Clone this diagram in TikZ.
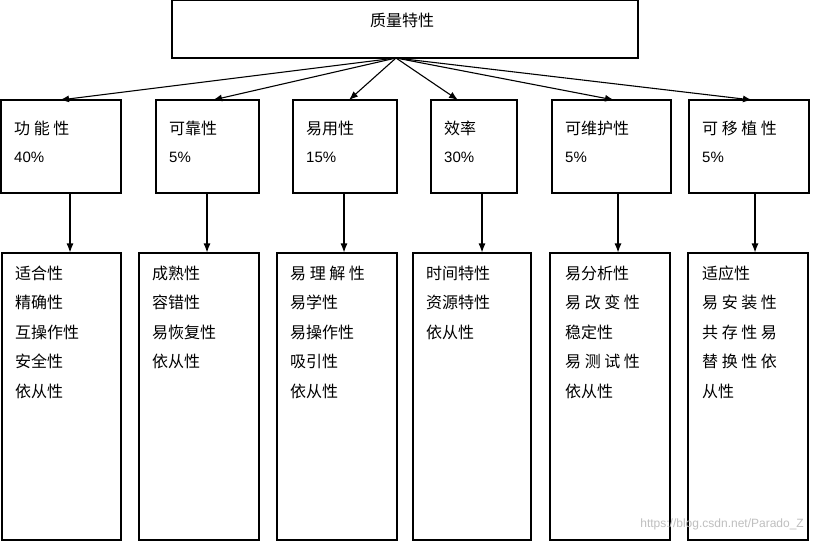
\documentclass[tikz,border=0pt]{standalone}
\usepackage{fontspec}
\usetikzlibrary{arrows.meta}
\newfontfamily\cjk{Noto Sans CJK SC}
\setmainfont{Liberation Sans}
\begin{document}
\begin{tikzpicture}[x=1pt,y=-1pt,
  bx/.style={draw,line width=1.1pt},
  lab/.style={anchor=west,inner sep=0pt,font=\cjk\fontsize{16}{16}\selectfont},
  pct/.style={anchor=west,inner sep=0pt,font=\fontsize{15}{15}\selectfont},
  arr/.style={-{Latex[length=9pt,width=7pt]},line width=1.1pt}]
\useasboundingbox (0,0) rectangle (814,544);
\fill[white] (0,0) rectangle (814,544);
\node[bx,minimum width=466pt,minimum height=58pt,inner sep=0pt] (top) at (405,29) {};
\node[lab,anchor=center] (tt) at (402,20) {质量特性};
\coordinate (apex) at (396,58);
\foreach \i/\a/\b/\tip/\v/\c/\d/\t/\p in {
 1/1/121/60/70/2/121/功\ 能\ 性/40\%,
 2/156/259/213/207/139/259/可靠性/5\%,
 3/293/397/349/344/277/397/易用性/15\%,
 4/431/517/458/482/413/531/效率/30\%,
 5/552/671/614/618/550/670/可维护性/5\%,
 6/689/809/752/755/688/808/可\ 移\ 植\ 性/5\%}{
  \node[bx,minimum width={(\b-\a)*1pt},minimum height=93pt,inner sep=0pt] (m\i) at ({(\a+\b)/2},146.5) {};
  \node[lab] (t\i) at (\a+13,128) {\t};
  \node[pct] (p\i) at (\a+13,157) {\p};
  \node[bx,minimum width={(\d-\c)*1pt},minimum height=287pt,inner sep=0pt] (b\i) at ({(\c+\d)/2},396.5) {};
  \coordinate (tp\i) at (\tip,100);
  \coordinate (vv\i) at (\v,193);
  \draw[arr] (apex) -- (tp\i);
  \draw[arr] (vv\i) -- (b\i.north -| vv\i);
}
\foreach \i/\x/\lst in {
 1/15/{适合性,精确性,互操作性,安全性,依从性},
 2/152/{成熟性,容错性,易恢复性,依从性},
 3/290/{易\ 理\ 解\ 性,易学性,易操作性,吸引性,依从性},
 4/426/{时间特性,资源特性,依从性},
 5/565/{易分析性,易\ 改\ 变\ 性,稳定性,易\ 测\ 试\ 性,依从性},
 6/702/{适应性,易\ 安\ 装\ 性,共\ 存\ 性\ 易,替\ 换\ 性\ 依,从性}}{
  \foreach \s [count=\k] in \lst {
    \node[lab] (l\i-\k) at (\x,{273+(\k-1)*29.5}) {\s};
  }
}
\node[anchor=east,inner sep=0pt,text=gray!50,font=\fontsize{12}{12}\selectfont] (wm) at (804,524) {https://blog.csdn.net/Parado\_Z};
\end{tikzpicture}
\end{document}
